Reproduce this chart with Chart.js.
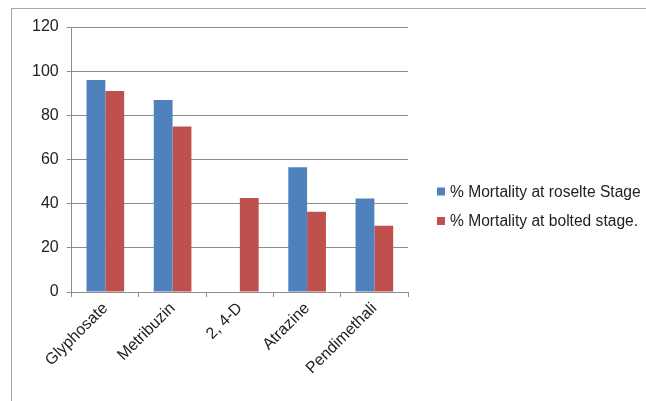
<!DOCTYPE html>
<html>
<head>
<meta charset="utf-8">
<script src="https://cdn.jsdelivr.net/npm/chart.js@4"></script>
<style>
  html, body { margin: 0; padding: 0; background: #fff; }
  #wrap { position: relative; width: 646px; height: 401px; overflow: hidden; }
  #frame { position: absolute; left: 11px; top: 8px; width: 700px; height: 500px; border: 1px solid #a6a6a6; }
  #c { position: absolute; left: 0; top: 0; }
</style>
</head>
<body>
<div id="wrap">
  <div id="frame"></div>
  <canvas id="c" width="646" height="401"></canvas>
</div>
<script>
const herbicides = ['Glyphosate', 'Metribuzin', '2, 4-D', 'Atrazine', 'Pendimethali'];
const roseltePct = [96, 87, null, 56.5, 42.3];
const boltedPct = [91, 75, 42.6, 36.4, 30];
const yTicks = [0, 20, 40, 60, 80, 100, 120];

// legend drawn by hand: the built-in one gets squeezed on the right side
const sideLegend = {
  id: 'sideLegend',
  afterDraw(chart) {
    const c = chart.ctx;
    const x = 437, y0 = 191.5, step = 29.5;
    c.save();
    c.font = '15.6px "Liberation Sans", Arial, sans-serif';
    c.textBaseline = 'middle';
    chart.data.datasets.forEach((ds, i) => {
      const y = y0 + i * step;
      c.fillStyle = ds.backgroundColor;
      c.fillRect(x, y - 4, 8, 8);
      c.fillStyle = '#222';
      c.fillText(ds.label, x + 13, y + 1);
    });
    c.restore();
  }
};

document.addEventListener('DOMContentLoaded', () => {
  const ctx = document.getElementById('c').getContext('2d');
  const font = { family: '"Liberation Sans", Arial, sans-serif', size: 16 };

  new Chart(ctx, {
    type: 'bar',
    data: {
      labels: herbicides,
      datasets: [{
        label: '% Mortality at roselte Stage',
        data: roseltePct,
        backgroundColor: '#4F81BD',
        categoryPercentage: 0.56,
        barPercentage: 1
      }, {
        label: '% Mortality at bolted stage.',
        data: boltedPct,
        backgroundColor: '#C0504D',
        categoryPercentage: 0.56,
        barPercentage: 1
      }]
    },
    options: {
      responsive: false,
      animation: false,
      layout: { padding: { left: 24, top: 27, right: 238, bottom: 21 } },
      scales: {
        y: {
          min: 0,
          max: 120,
          afterBuildTicks: (axis) => { axis.ticks = yTicks.map(v => ({ value: v })); },
          grid: { color: '#8c8c8c', tickLength: 5 },
          border: { color: '#8c8c8c' },
          ticks: { color: '#222', font: font, padding: 8 }
        },
        x: {
          grid: { drawOnChartArea: false, color: '#8c8c8c', tickLength: 5 },
          border: { color: '#8c8c8c' },
          ticks: { color: '#222', font: font, minRotation: 45, maxRotation: 45, padding: 2 }
        }
      },
      plugins: {
        legend: { display: false },
        tooltip: { enabled: false }
      }
    },
    plugins: [sideLegend]
  });
});
</script>
</body>
</html>
